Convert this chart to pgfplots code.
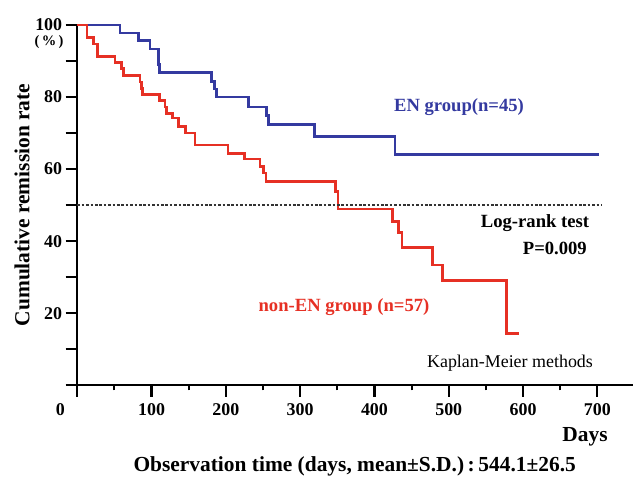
\documentclass[border=0pt]{standalone}
\usepackage{pgfplots}
\pgfplotsset{compat=1.18}
\usepackage{fontspec}
\setmainfont{Liberation Serif}
\definecolor{enblue}{RGB}{52,58,160}
\definecolor{nonred}{RGB}{230,48,36}
\begin{document}
\begin{tikzpicture}
\path[use as bounding box] (-77.3bp,-93.7bp) rectangle (558.7bp,385.3bp);
\begin{axis}[
  at={(0,0)}, anchor=south west,
  scale only axis, width=555.7bp, height=360.3bp,
  xmin=0, xmax=748, ymin=0, ymax=100,
  axis x line=bottom, axis y line=left,
  axis line style={-, line width=2.3bp},
  clip=false,
  tick align=outside,
  major tick length=11.6bp, minor tick length=5bp,
  tick style={line width=2.2bp, black},
  minor tick style={line width=2bp},
  xtick={100,200,...,700},
  minor xtick={50,150,...,650},
  extra x ticks={0},
  extra x tick style={tick label style={xshift=-17bp}},
  ytick={0,10,...,100},
  yticklabels={,,20,,40,,60,,80,,100},
  /pgf/number format/assume math mode=true,
  tick label style={font=\fontsize{18}{18}\selectfont\bfseries},
  xticklabel style={yshift=-3bp},
]
\addplot[const plot, enblue, line width=2.7bp] coordinates {
(0,100) (57.5,97.8) (82,95.6) (98,93.3) (109,89.0) (111,86.8)
(181,84.3) (184.5,82.2) (187,80.0) (230,77.2) (255,74.8) (257,72.3)
(319,69.0) (427.6,64.0) (702.6,64.0)
};
\addplot[const plot, nonred, line width=2.7bp] coordinates {
(0,100) (13,96.5) (22,94.7) (27,91.2) (50.7,89.5) (59.7,87.9) (62,86.0)
(84.4,84.2) (86,82.4) (87.5,80.7) (111,79.0) (118,77.2) (120,75.5)
(128,74.2) (136,71.8) (146,70.0) (158.5,66.7) (203,64.4) (225,62.8)
(246,60.8) (251,58.9) (254,56.6) (348,53.8) (351,48.9) (424.5,45.4)
(432,42.4) (437,38.3) (478,33.4) (492,29.0) (578,14.4) (594.5,14.4)
};
\addplot[black!80, line width=1.4bp, dash pattern=on 2.6bp off 1.8bp] coordinates {(0,50) (706,50)};
\end{axis}
\node[enblue, font=\fontsize{18.7}{20}\selectfont\bfseries] at (381.7bp,278.6bp) {EN group(n=45)};
\node[font=\fontsize{18.7}{20}\selectfont\bfseries] at (457.7bp,162.3bp) {Log-rank test};
\node[anchor=east, inner sep=0pt, font=\fontsize{18.7}{20}\selectfont\bfseries] at (509.7bp,137.3bp) {P=0.009};
\node[nonred, font=\fontsize{18.7}{20}\selectfont\bfseries] at (266.7bp,78.3bp) {non-EN group (n=57)};
\node[font=\fontsize{18}{20}\selectfont] at (432.7bp,22.3bp) {Kaplan-Meier methods};
\node[font=\fontsize{21.5}{22}\selectfont\bfseries] at (507.7bp,-51.7bp) {Days};
\node[font=\fontsize{21.5}{22}\selectfont\bfseries] at (277.4bp,-80.7bp) {Observation time (days, mean±S.D.)\,:\,544.1±26.5};
\node[rotate=90, font=\fontsize{21.5}{22}\selectfont\bfseries] at (-55.3bp,180.3bp) {Cumulative remission rate};
\node[inner sep=0pt, font=\fontsize{14.5}{15}\selectfont\bfseries] at (-28.3bp,343.5bp) {(\,\%\,)};
\end{tikzpicture}
\end{document}
